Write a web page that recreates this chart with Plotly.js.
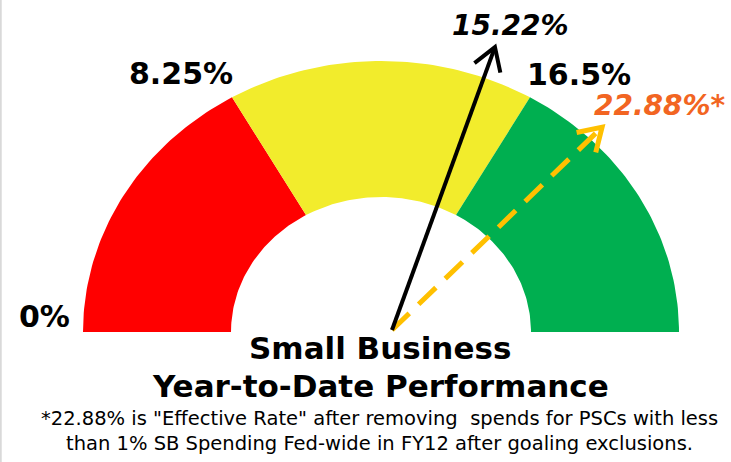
<!DOCTYPE html>
<html>
<head>
<meta charset="utf-8">
<script src="https://cdn.plot.ly/plotly-3.0.1.min.js"></script>
<style>html,body{margin:0;padding:0;background:#fff;}#chart{width:731px;height:462px;}</style>
</head>
<body>
<div id="chart"></div>
<script>
// ---- data ----
const bandStarts = [0, 8.25, 16.5];
const bandEnds = [8.25, 16.5, 24.75];
const bandColors = ['#FF0000', '#F2EC2C', '#00AF50'];
const tickValues = [0, 8.25, 16.5];
const tickLabels = ['0%', '8.25%', '16.5%'];
const gaugeMax = 24.75;
const needleValues = [15.22, 22.88];
const needleLabels = ['<b><i>15.22%</i></b>', '<b><i>22.88%*</i></b>'];
const needleAngles = [70, 44];   // drawing angle (deg)
const needleLengths = [301, 292];
const needleColors = ['#000000', '#FFC000'];
const needleLabelColors = ['#000000', '#F26522'];
const titleLines = ['Small Business', 'Year-to-Date Performance'];
const footnoteLines = ['*22.88% is "Effective Rate" after removing  spends for PSCs with less',
                       'than 1% SB Spending Fed-wide in FY12 after goaling exclusions.'];

// ---- geometry (pixel space) ----
const cx = 381, cy = 332;
const rxOut = 298, ryOut = 271, rxIn = 150, ryIn = 135;
const pivot = [392, 330];
const ang = v => Math.PI * (1 - v / gaugeMax);

const traces = [];
for (let i = 0; i < bandStarts.length; i++) {
  const xs = [], ys = [];
  const n = 60;
  for (let k = 0; k <= n; k++) {
    const t = ang(bandStarts[i] + (bandEnds[i] - bandStarts[i]) * k / n);
    xs.push(cx + rxOut * Math.cos(t)); ys.push(cy - ryOut * Math.sin(t));
  }
  for (let k = n; k >= 0; k--) {
    const t = ang(bandStarts[i] + (bandEnds[i] - bandStarts[i]) * k / n);
    xs.push(cx + rxIn * Math.cos(t)); ys.push(cy - ryIn * Math.sin(t));
  }
  traces.push({x: xs, y: ys, type: 'scatter', mode: 'lines', fill: 'toself',
    fillcolor: bandColors[i], line: {width: 0, color: bandColors[i]}, hoverinfo: 'skip', showlegend: false});
}

const annotations = [];
const tips = [];
for (let i = needleValues.length - 1; i >= 0; i--) {
  const a = needleAngles[i] * Math.PI / 180;
  const tip = [pivot[0] + needleLengths[i] * Math.cos(a), pivot[1] - needleLengths[i] * Math.sin(a)];
  tips[i] = tip;
  traces.push({x: [pivot[0], tip[0]], y: [pivot[1], tip[1]], type: 'scatter', mode: 'lines',
    line: {color: needleColors[i], width: i === 0 ? 4 : 5, dash: i === 0 ? 'solid' : '24px,13px'},
    hoverinfo: 'skip', showlegend: false});
  const back = a + Math.PI, spread = 32 * Math.PI / 180, hl = 26;
  const h1 = [tip[0] + hl * Math.cos(back - spread), tip[1] - hl * Math.sin(back - spread)];
  const h2 = [tip[0] + hl * Math.cos(back + spread), tip[1] - hl * Math.sin(back + spread)];
  traces.push({x: [h1[0], tip[0], h2[0]], y: [h1[1], tip[1], h2[1]], type: 'scatter', mode: 'lines',
    line: {color: needleColors[i], width: i === 0 ? 4 : 5}, hoverinfo: 'skip', showlegend: false});
}

// needle labels
annotations.push({x: tips[0][0], y: tips[0][1], xref: 'x', yref: 'y', text: needleLabels[0], showarrow: false,
  xanchor: 'center', yanchor: 'bottom', xshift: 16, yshift: 3,
  font: {family: 'DejaVu Sans', size: 28, color: needleLabelColors[0]}});
annotations.push({x: tips[1][0], y: tips[1][1], xref: 'x', yref: 'y', text: needleLabels[1], showarrow: false,
  xanchor: 'left', yanchor: 'bottom', xshift: -10, yshift: 3,
  font: {family: 'DejaVu Sans', size: 28, color: needleLabelColors[1]}});

// tick labels
const tickAnchor = [['right', -11, -4], ['right', 3, 4], ['left', -5, 3]];
tickValues.forEach((v, i) => {
  const t = ang(v);
  annotations.push({x: cx + rxOut * Math.cos(t), y: cy - ryOut * Math.sin(t), xref: 'x', yref: 'y',
    text: '<b>' + tickLabels[i] + '</b>', showarrow: false,
    xanchor: tickAnchor[i][0], yanchor: 'bottom', xshift: tickAnchor[i][1], yshift: tickAnchor[i][2],
    font: {family: 'DejaVu Sans', size: 30, color: '#000'}});
});

// titles
const titleY = [348, 386];
titleLines.forEach((s, i) => annotations.push({x: 380, y: titleY[i], xref: 'x', yref: 'y', text: '<b>' + s + '</b>',
  showarrow: false, xanchor: 'center', yanchor: 'middle', font: {family: 'DejaVu Sans', size: 31, color: '#000'}}));
const footY = [418, 443];
footnoteLines.forEach((s, i) => annotations.push({x: 379, y: footY[i], xref: 'x', yref: 'y', text: s,
  showarrow: false, xanchor: 'center', yanchor: 'middle', font: {family: 'DejaVu Sans', size: 19.5, color: '#000'}}));

const layout = {
  width: 731, height: 462, margin: {l: 0, r: 0, t: 0, b: 0},
  paper_bgcolor: '#fff', plot_bgcolor: '#fff', showlegend: false,
  xaxis: {range: [0, 731], visible: false, fixedrange: true},
  yaxis: {range: [462, 0], visible: false, fixedrange: true},
  annotations: annotations,
  shapes: [{type: 'line', xref: 'paper', yref: 'paper', x0: 0.001, x1: 0.001, y0: 0, y1: 1,
    line: {color: '#d9d9d9', width: 2}}]
};
Plotly.newPlot('chart', traces, layout, {staticPlot: true, displayModeBar: false});
</script>
</body>
</html>
